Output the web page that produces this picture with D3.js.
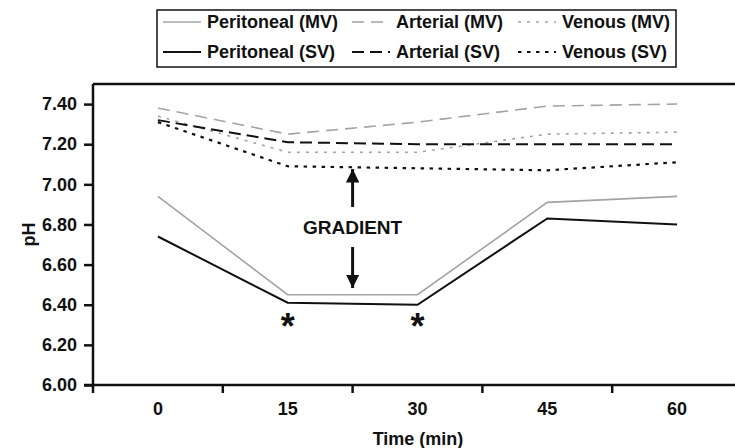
<!DOCTYPE html>
<html>
<head>
<meta charset="utf-8">
<script src="https://cdn.jsdelivr.net/npm/d3@7"></script>
<style>
  body { margin: 0; background: #fff; }
  svg { font-family: "Liberation Sans", Arial, sans-serif; font-weight: bold; }
</style>
</head>
<body>
<div id="chart"></div>
<script>
// pH over time
const times = ["0", "15", "30", "45", "60"];
const peritonealMV = [6.94, 6.45, 6.45, 6.91, 6.94];
const peritonealSV = [6.74, 6.41, 6.40, 6.83, 6.80];
const arterialMV = [7.38, 7.25, 7.31, 7.39, 7.40];
const arterialSV = [7.32, 7.21, 7.20, 7.20, 7.20];
const venousMV = [7.34, 7.16, 7.16, 7.25, 7.26];
const venousSV = [7.31, 7.09, 7.08, 7.07, 7.11];
const yTicks = [6.0, 6.2, 6.4, 6.6, 6.8, 7.0, 7.2, 7.4];
const starTimes = ["15", "30"];

const width = 735, height = 448;
const margin = { top: 84, left: 93, bottom: 63 };

const svg = d3.select("#chart").append("svg")
    .attr("width", width).attr("height", height);

// plot runs past the right edge of the window, as in the figure
const x = d3.scaleBand().domain(times).range([margin.left, 742]);
const y = d3.scaleLinear().domain([6.0, 7.5]).range([height - margin.bottom, margin.top]);

const series = [
    { name: "Peritoneal (MV)", values: peritonealMV, color: "#a3a3a3", w: 1.6, dash: null },
    { name: "Arterial (MV)", values: arterialMV, color: "#a3a3a3", w: 1.6, dash: "12,7" },
    { name: "Venous (MV)", values: venousMV, color: "#a3a3a3", w: 1.6, dash: "3,6" },
    { name: "Peritoneal (SV)", values: peritonealSV, color: "#111", w: 2, dash: null },
    { name: "Arterial (SV)", values: arterialSV, color: "#111", w: 2, dash: "12,6" },
    { name: "Venous (SV)", values: venousSV, color: "#111", w: 2.2, dash: "3.5,5.5" }
];

// top border
svg.append("line")
    .attr("x1", margin.left).attr("x2", width)
    .attr("y1", margin.top).attr("y2", margin.top)
    .attr("stroke", "#111").attr("stroke-width", 2.5);

// y axis
const yAxis = svg.append("g")
    .attr("transform", `translate(${margin.left},0)`)
    .call(d3.axisLeft(y).tickValues(yTicks).tickFormat(d3.format(".2f")).tickSize(9).tickPadding(7));
yAxis.select(".domain").remove();
yAxis.append("line")
    .attr("x1", 0).attr("x2", 0)
    .attr("y1", margin.top).attr("y2", y(6.0) + 8)
    .attr("stroke", "#111").attr("stroke-width", 2.5);
yAxis.selectAll(".tick line").attr("stroke", "#111").attr("stroke-width", 2.5);
yAxis.selectAll("text").attr("font-size", 18).attr("fill", "#111").attr("font-weight", "bold")
    .attr("font-family", "Liberation Sans, Arial, sans-serif");

// x axis: ticks sit between the categories
const xAxis = svg.append("g")
    .attr("transform", `translate(0,${y(6.0)})`);
xAxis.append("line")
    .attr("x1", margin.left - 9).attr("x2", width)
    .attr("stroke", "#111").attr("stroke-width", 2.5);
xAxis.selectAll(".sep").data(times.slice(1)).enter().append("line")
    .attr("class", "sep")
    .attr("x1", d => x(d)).attr("x2", d => x(d))
    .attr("y1", 0).attr("y2", 8)
    .attr("stroke", "#111").attr("stroke-width", 2.5);
xAxis.selectAll(".lbl").data(times).enter().append("text")
    .attr("class", "lbl")
    .attr("x", d => x(d) + x.bandwidth() / 2)
    .attr("y", 30)
    .attr("text-anchor", "middle")
    .attr("font-size", 18).attr("fill", "#111")
    .text(d => d);

// axis titles
svg.append("text")
    .attr("x", 418).attr("y", 445)
    .attr("text-anchor", "middle").attr("font-size", 18).attr("fill", "#111")
    .text("Time (min)");
svg.append("text")
    .attr("transform", `translate(35,${y(6.75)}) rotate(-90)`)
    .attr("text-anchor", "middle").attr("font-size", 18).attr("fill", "#111")
    .text("pH");

// series lines
const line = d3.line()
    .x((d, i) => x(times[i]) + x.bandwidth() / 2)
    .y(d => y(d));

svg.selectAll(".series").data(series).enter().append("path")
    .attr("class", "series")
    .attr("d", d => line(d.values))
    .attr("fill", "none")
    .attr("stroke", d => d.color)
    .attr("stroke-width", d => d.w)
    .attr("stroke-dasharray", d => d.dash);

// gradient annotation
const gx = (x("15") + x("30") + x.bandwidth()) / 2;
const defs = svg.append("defs");
defs.append("marker")
    .attr("id", "head")
    .attr("viewBox", "0 0 10 10")
    .attr("refX", 10).attr("refY", 5)
    .attr("markerWidth", 4.5).attr("markerHeight", 4.5)
    .attr("markerUnits", "strokeWidth")
    .attr("orient", "auto")
    .append("path").attr("d", "M0,0L10,5L0,10Z").attr("fill", "#111");

svg.append("line")
    .attr("x1", gx).attr("x2", gx).attr("y1", 207).attr("y2", 169)
    .attr("stroke", "#111").attr("stroke-width", 3).attr("marker-end", "url(#head)");
svg.append("line")
    .attr("x1", gx).attr("x2", gx).attr("y1", 247).attr("y2", 288)
    .attr("stroke", "#111").attr("stroke-width", 3).attr("marker-end", "url(#head)");
svg.append("text")
    .attr("x", gx).attr("y", 234)
    .attr("text-anchor", "middle").attr("font-size", 19).attr("fill", "#111")
    .text("GRADIENT");

// significance asterisks
svg.selectAll(".star").data(starTimes).enter().append("text")
    .attr("class", "star")
    .attr("x", d => x(d) + x.bandwidth() / 2)
    .attr("y", 339)
    .attr("text-anchor", "middle").attr("font-size", 36).attr("fill", "#111")
    .text("*");

// legend
const legend = svg.append("g");
legend.append("rect")
    .attr("x", 157).attr("y", 10).attr("width", 519).attr("height", 57)
    .attr("fill", "#fff").attr("stroke", "#111").attr("stroke-width", 1.5);
const colX = [163, 352, 518];
const rowY = [22, 52];
series.forEach((s, i) => {
    const cx = colX[i % 3], cy = rowY[Math.floor(i / 3)];
    legend.append("line")
        .attr("x1", cx).attr("x2", cx + 38)
        .attr("y1", cy).attr("y2", cy)
        .attr("stroke", s.color).attr("stroke-width", s.w)
        .attr("stroke-dasharray", s.dash);
    legend.append("text")
        .attr("x", cx + 44).attr("y", cy + 6)
        .attr("font-size", 18).attr("fill", "#111")
        .text(s.name);
});
</script>
</body>
</html>
